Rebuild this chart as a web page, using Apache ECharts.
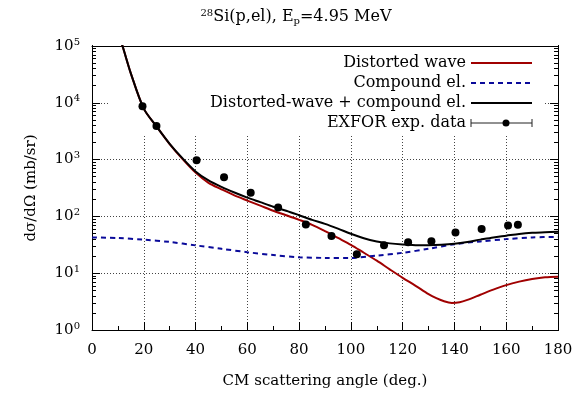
<!DOCTYPE html>
<html>
<head>
<meta charset="utf-8">
<script src="https://cdn.jsdelivr.net/npm/echarts@6/dist/echarts.min.js"></script>
<style>
  html, body { margin: 0; padding: 0; background: #fff; }
  #main { width: 581px; height: 394px; }
</style>
</head>
<body>
<div id="main"></div>
<script>
// ********************** data **********************
var dwAngles = [10, 12, 15, 20, 25, 30, 35, 40, 45, 50, 55, 60, 65, 70, 75, 80, 85, 90, 95,
                100, 105, 110, 115, 120, 125, 130, 133, 136, 139, 142, 145, 150, 155, 160, 165, 170, 175, 180];
var distortedWave = [178000, 93000, 33000, 7900, 3800, 1880, 1020, 590, 390, 300, 234, 190, 155, 126, 105,
                     87, 71, 55, 41.7, 31.6, 22.9, 16.6, 11.7, 8.3, 6.0, 4.27, 3.63, 3.2, 3.0, 3.08, 3.39,
                     4.17, 5.13, 6.17, 7.1, 7.9, 8.5, 8.7];

var totAngles = [10, 12, 15, 20, 25, 30, 35, 40, 45, 50, 55, 60, 65, 70, 75, 80, 85, 90, 95,
                 100, 105, 110, 115, 120, 125, 130, 135, 140, 145, 150, 155, 160, 165, 170, 175, 180];
var totalDwCe = [178000, 93000, 33000, 7900, 3800, 1900, 1050, 620, 430, 330, 263, 214, 178, 148, 126,
                 105, 87, 74, 61, 49.5, 41.2, 36.3, 33.5, 32, 31.2, 31, 31.6, 33, 35.5, 39, 42.7, 45.7,
                 49, 51.3, 52.5, 53.7];

var ceAngles = [0, 10, 20, 30, 40, 50, 60, 70, 80, 90, 100, 110, 120, 130, 140, 150, 160, 170, 180];
var compoundEl = [42.7, 41.7, 38.9, 35.5, 30.9, 26.9, 23.4, 20.9, 19.1, 18.6, 18.6, 20.4, 22.9, 26.9,
                  32.4, 36.3, 39.8, 42.7, 43.7];

var exforAngles = [19.5, 24.9, 40.4, 51.0, 61.3, 71.9, 82.6, 92.5, 102.3, 112.8, 122.1, 131.1, 140.4, 150.5, 160.7, 164.5];
var exforValues = [8700, 3900, 970, 490, 262, 144, 72, 45, 21.6, 31, 35, 36.5, 52, 60, 69, 71];

var yMin = 1, yMax = 100000;
var minorFactors = [2, 3, 4, 5, 6, 7, 8, 9];

function pairs(xs, ys) {
  return xs.map(function (x, i) { return [x, ys[i]]; });
}

var font = 'DejaVu Serif';
var supStyle = { fontFamily: font, fontSize: 10, padding: [0, 0, 8, 0], color: '#000' };
var subStyle = { fontFamily: font, fontSize: 10, padding: [8, 0, 0, 0], color: '#000' };

var myChart = echarts.init(document.getElementById('main'));

function yAxisBase(pos, mn, mx, len) {
  return {
    type: 'log', logBase: 10, min: mn, max: mx, position: pos,
    axisLine: { show: true, onZero: false, lineStyle: { color: '#000', width: 1 } },
    splitLine: { show: false },
    axisLabel: { show: false },
    axisTick: { show: true, inside: true, length: len, lineStyle: { color: '#000' } }
  };
}

var yMain = yAxisBase('left', yMin, yMax, 8);
yMain.name = 'd\u03c3/d\u03a9 (mb/sr)';
yMain.nameLocation = 'middle';
yMain.nameGap = 53;
yMain.nameTextStyle = { fontFamily: font, fontSize: 15, color: '#000' };
yMain.axisLabel = {
  show: true, margin: 12, fontFamily: font, fontSize: 15, color: '#000',
  formatter: function (v) { return '10{sup|' + Math.round(Math.log10(v)) + '}'; },
  rich: { sup: supStyle }
};
yMain.splitLine = { show: true, lineStyle: { color: '#444', type: [1, 2], width: 1 } };

var yAxes = [yMain, yAxisBase('right', yMin, yMax, 8)];
// minor ticks at 2..9 x 10^n: log axes shifted by the factor put their decade ticks there
minorFactors.forEach(function (f) {
  yAxes.push(yAxisBase('left', yMin / f, yMax / f, 4));
  yAxes.push(yAxisBase('right', yMin / f, yMax / f, 4));
});

function xAxisBase(pos) {
  return {
    type: 'value', min: 0, max: 180, interval: 20, position: pos,
    axisLine: { show: true, onZero: false, lineStyle: { color: '#000', width: 1 } },
    axisTick: { show: true, inside: true, length: 8, lineStyle: { color: '#000' } },
    minorTick: { show: true, splitNumber: 2, length: 4, lineStyle: { color: '#000' } },
    axisLabel: { show: false },
    splitLine: { show: false }
  };
}

var xMain = xAxisBase('bottom');
xMain.name = 'CM scattering angle (deg.)';
xMain.nameLocation = 'middle';
xMain.nameGap = 44;
xMain.nameTextStyle = { fontFamily: font, fontSize: 15, color: '#000' };
xMain.axisLabel = { show: true, margin: 13, fontFamily: font, fontSize: 15, color: '#000' };
xMain.splitLine = { show: true, lineStyle: { color: '#444', type: [1, 2], width: 1 } };
var xTop = xAxisBase('top');

// legend drawn gnuplot style: text right aligned, sample to the right
var legendItems = ['Distorted wave', 'Compound el.', 'Distorted-wave + compound el.', 'EXFOR exp. data'];
var legendGraphics = [
  { type: 'rect', left: 110, top: 47, shape: { width: 435, height: 88 }, style: { fill: '#fff' }, z: 1 }
];
legendItems.forEach(function (name, i) {
  var y = 63 + i * 20;
  legendGraphics.push({
    type: 'text', x: 466, y: y, z: 10,
    style: { text: name, font: '16px "DejaVu Serif"', fill: '#000', align: 'right', verticalAlign: 'middle' }
  });
});
legendGraphics.push(
  { type: 'line', z: 10, shape: { x1: 471, y1: 63, x2: 532, y2: 63 }, style: { stroke: '#a00000', lineWidth: 2 } },
  { type: 'line', z: 10, shape: { x1: 471, y1: 83, x2: 532, y2: 83 }, style: { stroke: '#0a0a9a', lineWidth: 2, lineDash: [5, 4] } },
  { type: 'line', z: 10, shape: { x1: 471, y1: 103, x2: 532, y2: 103 }, style: { stroke: '#000', lineWidth: 2 } },
  { type: 'line', z: 10, shape: { x1: 471, y1: 123, x2: 532, y2: 123 }, style: { stroke: '#222', lineWidth: 1 } },
  { type: 'line', z: 10, shape: { x1: 471, y1: 119, x2: 471, y2: 127 }, style: { stroke: '#222', lineWidth: 1 } },
  { type: 'line', z: 10, shape: { x1: 532, y1: 119, x2: 532, y2: 127 }, style: { stroke: '#222', lineWidth: 1 } },
  { type: 'circle', z: 10, shape: { cx: 506, cy: 123, r: 3.5 }, style: { fill: '#000' } }
);

var option = {
  animation: false,
  title: {
    text: '{sup|28}Si(p,el), E{sub|p}=4.95 MeV',
    left: 291, top: 3, textAlign: 'center',
    textStyle: {
      fontFamily: font, fontSize: 16, fontWeight: 'normal', color: '#000',
      rich: { sup: supStyle, sub: subStyle }
    }
  },
  grid: { left: 92, right: 23, top: 46, bottom: 62, containLabel: false },
  xAxis: [xMain, xTop],
  yAxis: yAxes,
  graphic: legendGraphics,
  series: [
    {
      name: 'Distorted wave', type: 'line', smooth: 0.3, showSymbol: false, clip: true, z: 3,
      data: pairs(dwAngles, distortedWave),
      lineStyle: { color: '#a00000', width: 2 }
    },
    {
      name: 'Compound el.', type: 'line', smooth: 0.3, showSymbol: false, clip: true, z: 3,
      data: pairs(ceAngles, compoundEl),
      lineStyle: { color: '#0a0a9a', width: 2, type: [5, 4] }
    },
    {
      name: 'Distorted-wave + compound el.', type: 'line', smooth: 0.3, showSymbol: false, clip: true, z: 4,
      data: pairs(totAngles, totalDwCe),
      lineStyle: { color: '#000', width: 2 }
    },
    {
      name: 'EXFOR exp. data', type: 'scatter', symbolSize: 8, z: 5,
      data: pairs(exforAngles, exforValues),
      itemStyle: { color: '#000', opacity: 1 }
    }
  ]
};

myChart.setOption(option);
</script>
</body>
</html>
